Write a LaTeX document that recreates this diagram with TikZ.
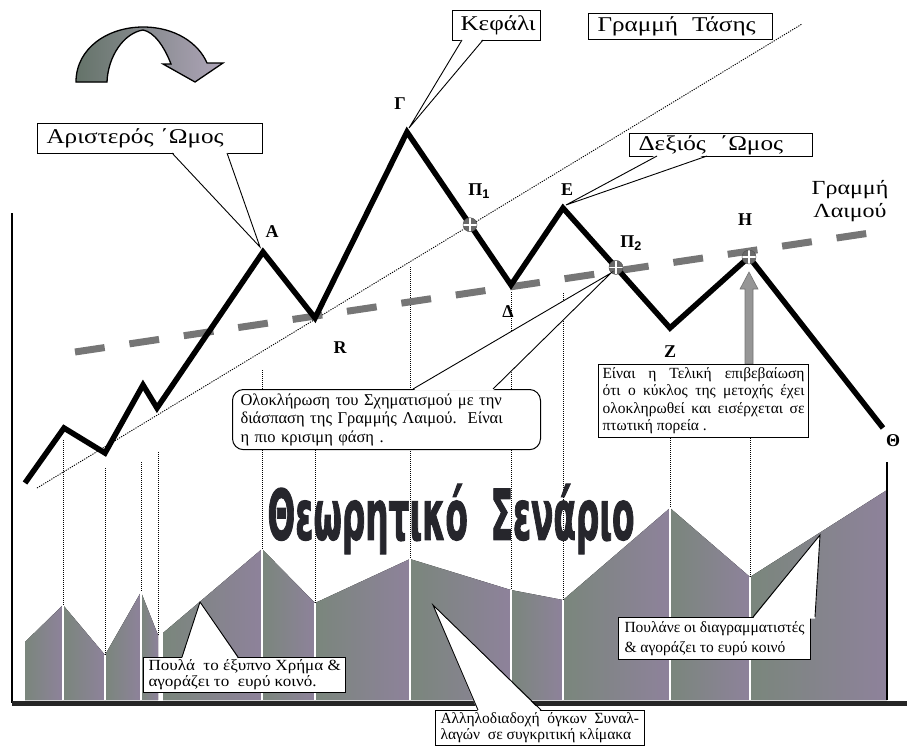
\documentclass[tikz,border=0pt]{standalone}
\usepackage{fontspec}
\usepackage{graphicx}
\setmainfont{Liberation Serif}
\newfontfamily\titlefont{DejaVu Sans}[UprightFont={* Bold}, FakeBold=2]
\newfontfamily\bigfont{Liberation Serif}[FakeStretch=1.2]
\newfontfamily\midfont{Liberation Serif}[FakeStretch=1.1]
\newfontfamily\sansf{Liberation Sans}
\usetikzlibrary{calc}
\definecolor{volA}{RGB}{122,134,124}
\definecolor{volB}{RGB}{142,130,155}
\definecolor{neck}{RGB}{118,118,118}
\definecolor{arrA}{RGB}{100,115,105}
\definecolor{arrB}{RGB}{175,165,185}
\definecolor{titlec}{RGB}{38,38,44}
\definecolor{markc}{RGB}{105,105,105}
\definecolor{garrow}{RGB}{150,150,150}
\begin{document}
\begin{tikzpicture}[x=1pt,y=-1pt,
  vlabel/.style={font=\fontsize{18}{18}\selectfont\bfseries, inner sep=0pt},
  bigbox/.style={draw, line width=1pt, fill=white, font=\bigfont\fontsize{21}{21}\selectfont, inner xsep=9pt, inner ysep=0pt, align=left, anchor=north west},
  txtbox/.style={draw, line width=1pt, fill=white, inner xsep=6pt, inner ysep=3pt, anchor=north west},
  wline/.style={line width=0.9pt},
  vdot/.style={line width=1pt, dash pattern=on 1pt off 1pt},
  wsep/.style={white, line width=2.2pt},
  pricel/.style={line width=5.5pt, miter limit=10},
  marker/.style={circle, fill=markc, draw=black!70, line width=0.4pt, minimum size=14pt, inner sep=0pt,
    path picture={\draw[white, line width=1.6pt] (path picture bounding box.north) -- (path picture bounding box.south) (path picture bounding box.west) -- (path picture bounding box.east);}},
  bar/.style={left color=volA, right color=volB}
]
\useasboundingbox (0,0) rectangle (907,747);

% ---------- volume bars ----------
\fill[bar] (25,700) -- (25,642) -- (63,605) -- (63,700) -- cycle;
\fill[bar] (63,700) -- (63,605) -- (105,655) -- (105,700) -- cycle;
\fill[bar] (105,700) -- (105,655) -- (141,592) -- (141,700) -- cycle;
\fill[bar] (141,700) -- (141,592) -- (158,635) -- (158,700) -- cycle;
\fill[bar] (163,700) -- (163,633) -- (262,549) -- (262,700) -- cycle;
\fill[bar] (262,700) -- (262,549) -- (315,603) -- (315,700) -- cycle;
\fill[bar] (315,700) -- (315,603) -- (410,559) -- (410,700) -- cycle;
\fill[bar] (410,700) -- (410,559) -- (511,590) -- (511,700) -- cycle;
\fill[bar] (511,700) -- (511,590) -- (563,600) -- (563,700) -- cycle;
\fill[bar] (563,700) -- (563,600) -- (670,508) -- (670,700) -- cycle;
\fill[bar] (670,700) -- (670,508) -- (750,577) -- (750,700) -- cycle;
\fill[bar] (750,700) -- (750,577) -- (887,490) -- (887,700) -- cycle;
\foreach \x/\y in {63/605,105/655,141/592,262/549,315/603,410/559,511/590,563/600,670/508,750/577}
  \draw[wsep] (\x,\y) -- (\x,700);

% ---------- dotted verticals ----------
\foreach \x/\a/\b in {63/440/605,105/468/655,141/462/592,158/452/635,262/370/549,315/450/603,410/267/559,511/292/590,563/293/600,670/438/508,750/438/577}
  \draw[vdot] (\x,\a) -- (\x,\b);

% ---------- axes ----------
\coordinate (ax0) at (12,213);
\coordinate (ax1) at (12,703);
\coordinate (ax2) at (907,703);
\draw[line width=2pt] (ax0) -- (ax1);
\draw[line width=5pt, black!85] (ax1) -- (ax2);
\coordinate (rl0) at (887,462);
\coordinate (rl1) at (887,700);
\draw[line width=1.5pt] (rl0) -- (rl1);

% ---------- trend line and neckline ----------
\coordinate (tr0) at (37,488);
\coordinate (tr1) at (802,24);
\draw[line width=0.9pt, dash pattern=on 1.2pt off 1.2pt] (tr0) -- (tr1);
\coordinate (nk0) at (75,352);
\coordinate (nk1) at (870,233);
\draw[neck, line width=7pt, dash pattern=on 30pt off 25pt] (nk0) -- (nk1);

% ---------- price line ----------
\coordinate (s0) at (25,483);
\coordinate (s1) at (64,428);
\coordinate (s2) at (105,453);
\coordinate (s3) at (143,385);
\coordinate (s4) at (157,408);
\coordinate (A) at (263,252);
\coordinate (R) at (315,318);
\coordinate (G) at (407,132);
\coordinate (D) at (511,285);
\coordinate (E) at (563,208);
\coordinate (Z) at (670,328);
\coordinate (H) at (749,257);
\coordinate (T) at (883,428);
\coordinate (P1) at ($(G)!0.606!(D)$);
\coordinate (P2) at ($(E)!0.495!(Z)$);
\draw[pricel] (s0) -- (s1) -- (s2) -- (s3) -- (s4) -- (A) -- (R) -- (G) -- (D) -- (E) -- (Z) -- (H) -- (T);

% ---------- markers ----------
\node[marker] (m1) at (P1) {};
\node[marker] (m2) at (P2) {};
\node[marker] (m3) at (H) {};

% ---------- gray arrow to H ----------
\coordinate (ha0) at (749,364);
\coordinate (ha1) at (749,272);
\fill[garrow, draw=black!55, line width=0.6pt] ($(ha0)+(-4,0)$) -- ($(ha1)+(-4,17)$) -- ($(ha1)+(-9,17)$) -- (ha1) -- ($(ha1)+(9,17)$) -- ($(ha1)+(4,17)$) -- ($(ha0)+(4,0)$) -- cycle;

% ---------- curved arrow top-left ----------
\filldraw[left color=arrA, right color=arrB, draw=black, line width=1.3pt]
 (76,82) .. controls (76,48) and (108,27) .. (143,27) .. controls (176,27) and (199,44) .. (207,63)
 -- (223,63) -- (195,82) -- (163,64) -- (171,64)
 .. controls (164,46) and (154,32) .. (143,30) .. controls (124,33) and (108,56) .. (107,82) -- cycle;

% ---------- vertex labels ----------
\node[vlabel] (lA) at (272,232) {Α};
\node[vlabel] (lG) at (400,104) {Γ};
\node[vlabel] (lR) at (340,348) {R};
\node[vlabel] (lP1) at (479,191) {Π\textsubscript{\sansf 1}};
\node[vlabel] (lE) at (567,190) {Ε};
\node[vlabel] (lD) at (508,312) {Δ};
\node[vlabel] (lP2) at (631,243) {Π\textsubscript{\sansf 2}};
\node[vlabel] (lH) at (745,220) {Η};
\node[vlabel] (lZ) at (670,352) {Ζ};
\node[vlabel] (lT) at (893,441) {Θ};

% ---------- top boxes ----------
\node[bigbox, text width=72pt, minimum height=30pt, inner xsep=8pt] (kef) at (452,10) {Κεφάλι};
\node[bigbox, text width=166pt, minimum height=26pt] (tas) at (588,13) {Γραμμή\ \ Τάσης};
\node[bigbox, text width=207pt, minimum height=30pt] (ari) at (37,123) {Αριστερός ΄Ωμος};
\node[bigbox, text width=165pt, minimum height=23pt] (dex) at (629,133) {Δεξιός\ \ ΄Ωμος};
\node[font=\bigfont\fontsize{20}{23}\selectfont, align=center, inner sep=0pt] (laim) at (850,201) {Γραμμή\\Λαιμού};

% wedges of top boxes
\coordinate (kw1) at (462,40); \coordinate (kw2) at (483,40); \coordinate (kt) at (409,128);
\fill[white] ($(kw1)+(0,-1.5)$) -- (kt) -- ($(kw2)+(0,-1.5)$) -- cycle;
\draw[wline] (kw1) -- (kt) -- (kw2);
\coordinate (aw1) at (172,153); \coordinate (aw2) at (227,153); \coordinate (at) at (260,247);
\fill[white] ($(aw1)+(0,-1.5)$) -- (at) -- ($(aw2)+(0,-1.5)$) -- cycle;
\draw[wline] (aw1) -- (at) -- (aw2);
\coordinate (dw1) at (657,156); \coordinate (dw2) at (707,156); \coordinate (dt) at (566,205);
\fill[white] ($(dw1)+(0,-1.5)$) -- (dt) -- ($(dw2)+(0,-1.5)$) -- cycle;
\draw[wline] (dw1) -- (dt) -- (dw2);

% ---------- middle callouts ----------
\node[txtbox, rounded corners=11pt, text width=292pt, align=left, inner xsep=8pt, inner ysep=4pt, font=\fontsize{16.5}{18.5}\selectfont] (olo) at (232,389)
 {Ολοκλήρωση του Σχηματισμού με την\\διάσπαση της Γραμμής Λαιμού.\ \ Είναι\\η πιο κρισιμη φάση .};
\coordinate (ow1) at (413,389); \coordinate (ow2) at (493,389); \coordinate (ot) at (611,273);
\fill[white] ($(ow1)+(0,1.5)$) -- (ot) -- ($(ow2)+(0,1.5)$) -- cycle;
\draw[wline] (ow1) -- (ot) -- (ow2);

\node[txtbox, text width=202pt, align=justify, inner xsep=4pt, inner ysep=3pt, font=\fontsize{15.5}{17.5}\selectfont] (ein) at (598,364)
 {Είναι η Τελική επιβεβαίωση\linebreak ότι ο κύκλος της μετοχής έχει\linebreak ολοκληρωθεί και εισέρχεται σε\linebreak πτωτική πορεία .};

% ---------- title ----------
\node[inner sep=0pt, text=titlec, font=\titlefont] (title) at (451,519) {\resizebox*{367pt}{70pt}{Θεωρητικό\ \ Σενάριο}};

% ---------- bottom callouts ----------
\node[txtbox, align=left, inner xsep=5pt, inner ysep=2pt, font=\midfont\fontsize{15.5}{16.5}\selectfont] (pou) at (143,657)
 {Πουλά\ \ το έξυπνο Χρήμα \&\\αγοράζει το\ \ ευρύ κοινό.};
\coordinate (pw1) at (182,657); \coordinate (pw2) at (238,657); \coordinate (pt) at (200,602);
\fill[white] ($(pw1)+(0,1.5)$) -- (pt) -- ($(pw2)+(0,1.5)$) -- cycle;
\draw[wline] (pw1) -- (pt) -- (pw2);

\node[txtbox, align=left, inner xsep=6pt, inner ysep=4pt, font=\fontsize{15.5}{20}\selectfont] (pln) at (618,617)
 {Πουλάνε οι διαγραμματιστές\\\& αγοράζει το ευρύ κοινό};
\coordinate (qw1) at (753,617); \coordinate (qw2) at (815,617); \coordinate (qt) at (820,535);
\fill[white] ($(qw1)+(0,1.5)$) -- (qt) -- ($(qw2)+(0,1.5)$) -- cycle;
\draw[wline] (qw1) -- (qt) -- (qw2);

\node[txtbox, align=left, inner xsep=5pt, inner ysep=2pt, font=\fontsize{15.5}{16.5}\selectfont] (all) at (435,710)
 {Αλληλοδιαδοχή\ \ όγκων\ \ Συναλ-\\λαγών\ \ σε συγκριτική κλίμακα};
\coordinate (lw1) at (478,710); \coordinate (lw2) at (541,710); \coordinate (lt) at (433,605);
\fill[white] ($(lw1)+(0,1.5)$) -- (lt) -- ($(lw2)+(0,1.5)$) -- cycle;
\draw[wline] (lw1) -- (lt) -- (lw2);
\end{tikzpicture}
\end{document}
